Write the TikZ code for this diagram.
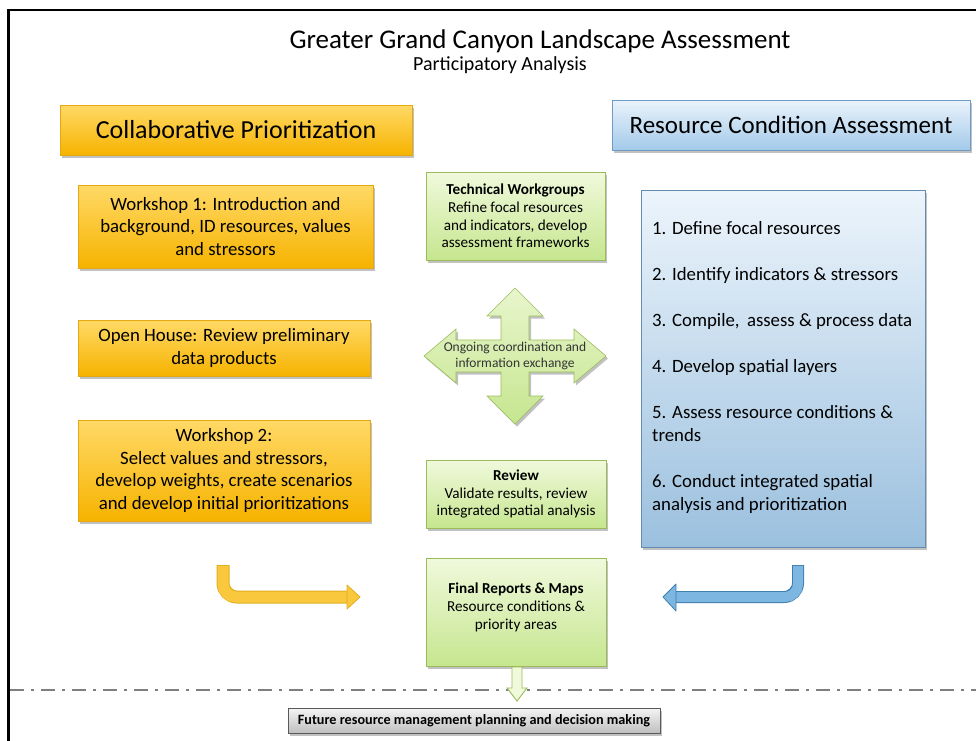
\documentclass[tikz,border=0pt]{standalone}
\usepackage{fontspec}
\setmainfont{Carlito}
\usetikzlibrary{shadows,calc}
\definecolor{ortop}{HTML}{FFD966}
\definecolor{orbot}{HTML}{F6B300}
\definecolor{orbord}{HTML}{E3A812}
\definecolor{grtop}{HTML}{F0F9DC}
\definecolor{grbot}{HTML}{C6E68F}
\definecolor{grbord}{HTML}{9BBB59}
\definecolor{bltop}{HTML}{EAF3FB}
\definecolor{blbot}{HTML}{A3CAEA}
\definecolor{blbord}{HTML}{6F9CC6}
\definecolor{gytop}{HTML}{F4F4F4}
\definecolor{gybot}{HTML}{BFBFBF}
\definecolor{gybord}{HTML}{595959}
\definecolor{dashgray}{HTML}{7F7F7F}
\definecolor{yarrow}{HTML}{F9C83C}
\definecolor{yarrowb}{HTML}{E2AE20}
\definecolor{barrow}{HTML}{7DB6E0}
\definecolor{barrowb}{HTML}{3F7FAE}
\begin{document}
\begin{tikzpicture}[x=1pt,y=-1pt,
  shad/.style={drop shadow={shadow xshift=2pt,shadow yshift=-2.5pt,opacity=.35,fill=black!70}},
  orbox/.style={rectangle,draw=orbord,line width=0.6pt,top color=ortop,bottom color=orbot,shad,align=center,inner sep=2pt},
  grbox/.style={rectangle,draw=grbord,line width=0.6pt,top color=grtop,bottom color=grbot,shad,align=center,inner sep=2pt,
     font=\fontsize{15.2}{17.8}\selectfont},
  blbox/.style={rectangle,draw=blbord,line width=0.6pt,top color=bltop,bottom color=blbot,shad,align=center,inner sep=2pt},
  gybox/.style={rectangle,draw=gybord,line width=0.7pt,top color=gytop,bottom color=gybot,shad,align=center,inner sep=2pt},
  midfont/.style={font=\fontsize{18.8}{22.5}\selectfont},
]
\useasboundingbox (0,0) rectangle (976,740);
% frame
\draw[line width=2.6pt,line cap=rect] (8.5,740) -- (8.5,10) -- (976,10);

% title
\node (title) at (540,41) {\fontsize{27}{30}\selectfont Greater Grand Canyon Landscape Assessment};
\node (subtitle) at (500,65) {\fontsize{20}{22}\selectfont Participatory Analysis};

% headers
\node[orbox,font=\fontsize{26}{28}\selectfont,minimum width=352pt,minimum height=50pt] (collab) at (236,130) {Collaborative Prioritization};
\node[blbox,font=\fontsize{25}{28}\selectfont,minimum width=358pt,minimum height=50pt] (rca) at (791,125) {Resource Condition Assessment};

% left column
\node[orbox,midfont,minimum width=295pt,minimum height=83pt] (ws1) at (225.5,226.5)
  {Workshop 1: Introduction and\\background, ID resources, values\\and stressors};
\node[orbox,midfont,minimum width=292pt,minimum height=56pt] (open) at (224,348)
  {Open House: Review preliminary\\data products};
\node[orbox,midfont,minimum width=292pt,minimum height=101pt] (ws2) at (224,470.5)
  {Workshop 2:\\Select values and stressors,\\develop weights, create scenarios\\and develop initial prioritizations};

% middle column
\node[grbox,minimum width=179pt,minimum height=88pt] (tech) at (515.5,216)
  {\textbf{Technical Workgroups}\\Refine focal resources\\and indicators, develop\\assessment frameworks};
\node[grbox,minimum width=180pt,minimum height=68pt] (review) at (516,494)
  {\textbf{Review}\\Validate results, review\\integrated spatial analysis};
\node[grbox,minimum width=180pt,minimum height=108pt,text depth=12pt] (final) at (516,612)
  {\textbf{Final Reports \& Maps}\\Resource conditions \&\\priority areas};

% four-way arrow
\path[draw=grbord,line width=0.6pt,top color=grtop!80!grbot,bottom color=grbot,shad]
  (515,288) -- (543,316) -- (529,316) -- (529,340) -- (574,340) -- (574,329) -- (606,356)
  -- (574,383) -- (574,372) -- (529,372) -- (529,396) -- (543,396) -- (515,424)
  -- (487,396) -- (501,396) -- (501,372) -- (456,372) -- (456,383) -- (424,356)
  -- (456,329) -- (456,340) -- (501,340) -- (501,316) -- (487,316) -- cycle;
\node[align=center,text=black!80,font=\fontsize{13.5}{16.5}\selectfont] (xchg) at (515,356)
  {Ongoing coordination and\\information exchange};

% right column
\node[blbox,minimum width=284pt,minimum height=357pt,top color=bltop!90!white,bottom color=blbot!95!black,draw=blbord!90!black] (steps) at (783,368.5) {};
\node[anchor=west,align=left,inner sep=0pt,font=\fontsize{18.8}{23}\selectfont] (stepstext) at (652,367)
  {1. Define focal resources\\[23pt]
   2. Identify indicators \& stressors\\[23pt]
   3. Compile,\, assess \& process data\\[23pt]
   4. Develop spatial layers\\[23pt]
   5. Assess resource conditions \&\\trends\\[23pt]
   6. Conduct integrated spatial\\analysis and prioritization};

% bent arrows
\coordinate (ya) at (223,565);
\coordinate (yb) at (223,597);
\coordinate (yc) at (347,597);
\draw[yarrowb,line width=13pt,rounded corners=14pt] (ya) -- (yb) -- (yc);
\draw[yarrow,line width=11pt,rounded corners=13pt] ($(ya)+(0,0.9)$) -- (yb) -- ($(yc)+(1,0)$);
\filldraw[fill=yarrow,draw=yarrowb,line width=0.8pt,line join=round] (347,585) -- (360,597) -- (347,609) -- cycle;

\coordinate (ba) at (798,565);
\coordinate (bb) at (798,597);
\coordinate (bc) at (676,597);
\draw[barrowb,line width=12pt,rounded corners=14pt] (ba) -- (bb) -- (bc);
\draw[barrow,line width=10pt,rounded corners=13pt] ($(ba)+(0,0.9)$) -- (bb) -- ($(bc)+(-1,0)$);
\filldraw[fill=barrow,draw=barrowb,line width=0.8pt,line join=round] (676,584) -- (663,597) -- (676,611) -- cycle;

% dash-dot separator
\coordinate (sepL) at (10,690);
\coordinate (sepR) at (976,690);
\draw[dashgray,line width=2.6pt,dash pattern=on 14pt off 7pt on 3pt off 7pt] (sepL) -- (sepR);

% down arrow
\filldraw[fill=grtop,draw=grbord,line width=0.9pt,line join=miter]
  (512,667) -- (522,667) -- (522,688) -- (527,688) -- (517,701) -- (507,688) -- (512,688) -- cycle;

% bottom box
\node[gybox,minimum width=372pt,minimum height=25pt,font=\fontsize{14.2}{16}\selectfont\bfseries] (future) at (474,720.5)
  {Future resource management planning and decision making};
\end{tikzpicture}
\end{document}
